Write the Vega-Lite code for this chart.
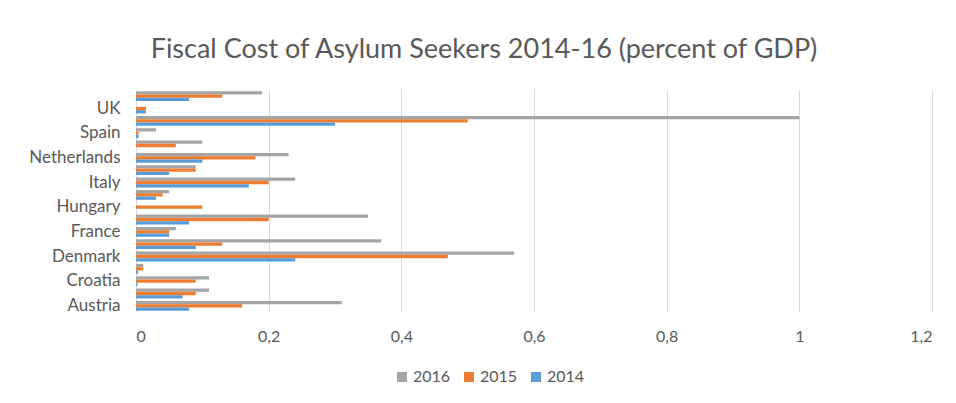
{
  "$schema": "https://vega.github.io/schema/vega-lite/v6.json",
  "width": 796,
  "height": 222,
  "autosize": {"type": "none"},
  "padding": {"left": 136, "top": 90, "right": 24, "bottom": 91},
  "background": "white",
  "title": {
    "text": "Fiscal Cost of Asylum Seekers 2014-16 (percent of GDP)",
    "font": "Lato",
    "fontSize": 27,
    "fontWeight": "normal",
    "color": "#595959",
    "anchor": "middle",
    "offset": 26,
    "dx": -50
  },
  "config": {
    "view": {"stroke": null},
    "font": "Lato"
  },
  "data": {
    "values": [
      {"country": "Austria", "year": "2016", "value": 0.31},
      {"country": "Austria", "year": "2015", "value": 0.16},
      {"country": "Austria", "year": "2014", "value": 0.08},
      {"country": "Belgium", "year": "2016", "value": 0.11},
      {"country": "Belgium", "year": "2015", "value": 0.09},
      {"country": "Belgium", "year": "2014", "value": 0.07},
      {"country": "Croatia", "year": "2016", "value": 0.11},
      {"country": "Croatia", "year": "2015", "value": 0.09},
      {"country": "Croatia", "year": "2014", "value": 0.002},
      {"country": "Cyprus", "year": "2016", "value": 0.011},
      {"country": "Cyprus", "year": "2015", "value": 0.011},
      {"country": "Cyprus", "year": "2014", "value": 0.003},
      {"country": "Denmark", "year": "2016", "value": 0.57},
      {"country": "Denmark", "year": "2015", "value": 0.47},
      {"country": "Denmark", "year": "2014", "value": 0.24},
      {"country": "Finland", "year": "2016", "value": 0.37},
      {"country": "Finland", "year": "2015", "value": 0.13},
      {"country": "Finland", "year": "2014", "value": 0.09},
      {"country": "France", "year": "2016", "value": 0.06},
      {"country": "France", "year": "2015", "value": 0.05},
      {"country": "France", "year": "2014", "value": 0.05},
      {"country": "Germany", "year": "2016", "value": 0.35},
      {"country": "Germany", "year": "2015", "value": 0.2},
      {"country": "Germany", "year": "2014", "value": 0.08},
      {"country": "Hungary", "year": "2016", "value": 0},
      {"country": "Hungary", "year": "2015", "value": 0.1},
      {"country": "Hungary", "year": "2014", "value": 0},
      {"country": "Ireland", "year": "2016", "value": 0.05},
      {"country": "Ireland", "year": "2015", "value": 0.04},
      {"country": "Ireland", "year": "2014", "value": 0.03},
      {"country": "Italy", "year": "2016", "value": 0.24},
      {"country": "Italy", "year": "2015", "value": 0.2},
      {"country": "Italy", "year": "2014", "value": 0.17},
      {"country": "Luxembourg", "year": "2016", "value": 0.09},
      {"country": "Luxembourg", "year": "2015", "value": 0.09},
      {"country": "Luxembourg", "year": "2014", "value": 0.05},
      {"country": "Netherlands", "year": "2016", "value": 0.23},
      {"country": "Netherlands", "year": "2015", "value": 0.18},
      {"country": "Netherlands", "year": "2014", "value": 0.1},
      {"country": "Portugal", "year": "2016", "value": 0.1},
      {"country": "Portugal", "year": "2015", "value": 0.06},
      {"country": "Portugal", "year": "2014", "value": 0},
      {"country": "Spain", "year": "2016", "value": 0.03},
      {"country": "Spain", "year": "2015", "value": 0.004},
      {"country": "Spain", "year": "2014", "value": 0.004},
      {"country": "Sweden", "year": "2016", "value": 1.0},
      {"country": "Sweden", "year": "2015", "value": 0.5},
      {"country": "Sweden", "year": "2014", "value": 0.3},
      {"country": "UK", "year": "2016", "value": 0},
      {"country": "UK", "year": "2015", "value": 0.015},
      {"country": "UK", "year": "2014", "value": 0.015},
      {"country": "EU average", "year": "2016", "value": 0.19},
      {"country": "EU average", "year": "2015", "value": 0.13},
      {"country": "EU average", "year": "2014", "value": 0.08}
    ]
  },
  "mark": {"type": "bar"},
  "encoding": {
    "y": {
      "field": "country",
      "type": "nominal",
      "sort": ["EU average", "UK", "Sweden", "Spain", "Portugal", "Netherlands", "Luxembourg", "Italy", "Ireland", "Hungary", "Germany", "France", "Finland", "Denmark", "Cyprus", "Croatia", "Belgium", "Austria"],
      "scale": {"paddingInner": 0.2, "paddingOuter": 0.1},
      "axis": {
        "title": null,
        "values": ["UK", "Spain", "Netherlands", "Italy", "Hungary", "France", "Denmark", "Croatia", "Austria"],
        "ticks": false,
        "domainColor": "#d9d9d9",
        "labelFontSize": 17,
        "labelColor": "#595959",
        "labelPadding": 16
      }
    },
    "yOffset": {
      "field": "year",
      "type": "nominal",
      "sort": ["2016", "2015", "2014"]
    },
    "x": {
      "field": "value",
      "type": "quantitative",
      "scale": {"domain": [0, 1.2], "nice": false},
      "axis": {
        "title": null,
        "values": [0, 0.2, 0.4, 0.6, 0.8, 1, 1.2],
        "labelExpr": "replace(format(datum.value, '~g'), '.', ',')",
        "domain": false,
        "ticks": false,
        "gridColor": "#d9d9d9",
        "labelFontSize": 16,
        "labelColor": "#595959",
        "labelPadding": 16
      }
    },
    "color": {
      "field": "year",
      "type": "nominal",
      "sort": ["2016", "2015", "2014"],
      "scale": {"domain": ["2016", "2015", "2014"], "range": ["#a5a5a5", "#ed7d31", "#5b9bd5"]},
      "legend": {
        "title": null,
        "orient": "none",
        "direction": "horizontal",
        "legendX": 258,
        "legendY": 279,
        "symbolType": "square",
        "symbolSize": 100,
        "symbolStrokeWidth": 0,
        "labelFontSize": 16,
        "labelColor": "#595959",
        "columnPadding": 10,
        "labelOffset": 3
      }
    }
  }
}
